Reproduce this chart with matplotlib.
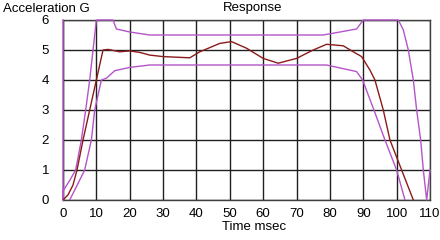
import matplotlib
matplotlib.use("Agg")
import matplotlib.pyplot as plt

plt.rcParams['font.family'] = ['Liberation Sans', 'DejaVu Sans']

# response curve (G vs msec)
resp_t = [0, 1.5, 3, 4.2, 6, 8, 10, 12, 13.5, 17, 20, 23, 26, 30, 38, 41, 47,
          50.5, 55, 60, 64.5, 70, 75, 79, 84, 87, 89.5, 92, 93.5, 96, 98, 101.5, 105]
resp_g = [0, 0.17, 0.5, 1, 2, 3, 4, 5, 5.02, 4.94, 4.97, 4.92, 4.83, 4.78, 4.74, 4.94, 5.22,
          5.28, 5.06, 4.72, 4.56, 4.72, 5.0, 5.19, 5.14, 4.94, 4.78, 4.33, 4, 3, 2, 1, 0]

# upper corridor
upper_t = [0, 0, 0, 2, 3.8, 5.5, 6.8, 8, 9, 10, 15, 16, 20, 26, 78, 88, 90,
           100.5, 102, 103.5, 105, 106, 107.2, 108, 109, 110]
upper_g = [6, 0, 0.3, 0.65, 1.0, 2.0, 3.0, 4.0, 5.0, 6.0, 6.0, 5.7, 5.6, 5.5, 5.5, 5.7, 6.0,
           6.0, 5.67, 5.0, 4.0, 3.0, 2.0, 1.0, 0, 1.0]

# lower corridor
lower_t = [2, 4, 6.5, 8.5, 9.5, 11.5, 13, 15.5, 20, 26, 79, 88, 89.8, 93.2, 96.5, 100, 102.5]
lower_g = [0, 0.44, 1, 2, 3, 4, 4.06, 4.31, 4.42, 4.5, 4.5, 4.28, 4, 3, 2, 1, 0]

xticks = list(range(0, 111, 10))
yticks = list(range(0, 7))

purple = '#b455c8'
red = '#8b1a1a'

fig = plt.figure(figsize=(4.4, 2.4), dpi=100)
ax = fig.add_axes([63 / 440, 40 / 240, 367 / 440, 180 / 240])

ax.plot(upper_t, upper_g, color=purple, lw=1.0, clip_on=False, zorder=3)
ax.plot(lower_t, lower_g, color=purple, lw=1.0, zorder=3)
ax.plot(resp_t, resp_g, color=red, lw=1.0, zorder=4)

ax.set_xlim(0, 110)
ax.set_ylim(0, 6)
ax.set_xticks(xticks)
ax.set_yticks(yticks)
ax.tick_params(length=0, labelsize=9.5, colors='black')
ax.tick_params(axis='x', pad=6)
ax.tick_params(axis='y', pad=10)
ax.grid(True, color='#202020', lw=1.0)
for s in ax.spines.values():
    s.set_color('#404040')
    s.set_linewidth(1.0)

fig.text(3 / 440, 1 - 9 / 240, 'Acceleration G', fontsize=9.5, va='center', ha='left')
fig.text(223 / 440, 1 - 8 / 240, 'Response', fontsize=9.5, va='center', ha='left')
fig.text(222 / 440, 1 - 227 / 240, 'Time msec', fontsize=9.5, va='center', ha='left')

fig.savefig('out.png', dpi=100)
